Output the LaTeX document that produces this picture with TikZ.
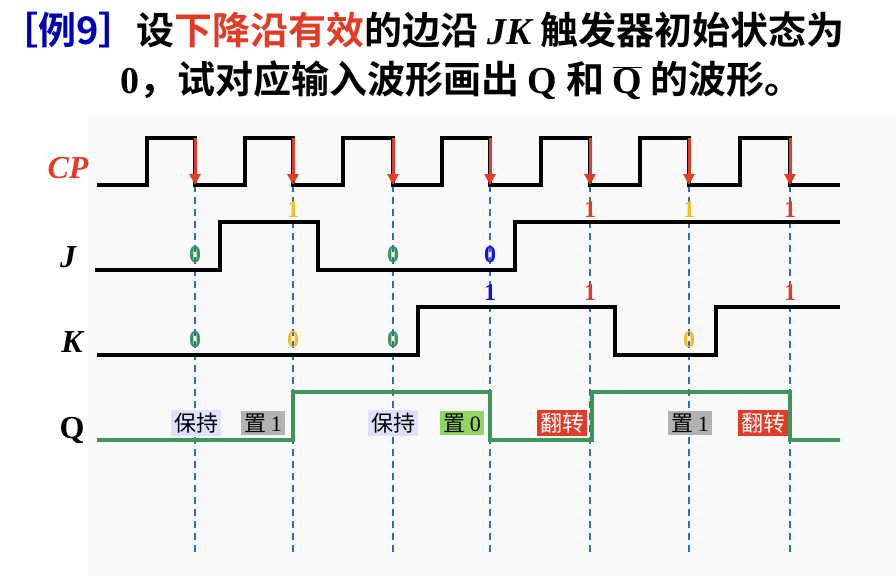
\documentclass[tikz,border=0pt]{standalone}
\usepackage{fontspec}
\setmainfont{Liberation Serif}
\newfontfamily\cjk{Noto Sans CJK SC}[BoldFont={* Bold}]
\usetikzlibrary{arrows.meta}
\definecolor{tgreen}{RGB}{60,150,90}
\definecolor{tyellow}{RGB}{240,190,40}
\definecolor{tred}{RGB}{225,60,40}
\definecolor{tblue}{RGB}{20,20,200}
\definecolor{tdash}{RGB}{40,110,190}
\tikzset{
  wave/.style={line width=3.6pt,line join=miter},
  edge/.style={tred,line width=3pt,-{Triangle[length=11pt,width=11pt]}},
  guide/.style={tdash,line width=1.6pt,dash pattern=on 7pt off 5pt},
  bit/.style={font=\bfseries\fontsize{24}{24}\selectfont,inner sep=0pt},
  sig/.style={font=\bfseries\itshape\fontsize{32}{32}\selectfont},
  tag/.style={font=\cjk\fontsize{22}{22}\selectfont,inner xsep=3pt,inner ysep=3pt}
}
\begin{document}
\begin{tikzpicture}[x=1pt,y=-1pt]
\useasboundingbox (0,0) rectangle (896,576);
\fill[gray!5] (88,115) rectangle (896,576);
% title
\node[anchor=west,font=\cjk\bfseries\fontsize{38}{38}\selectfont,inner sep=0pt] (t1) at (0,30)
  {\textcolor{blue!70!black}{［例9］}设\textcolor{tred}{下降沿有效}的边沿 {\rmfamily\itshape JK} 触发器初始状态为};
\node[anchor=west,font=\cjk\bfseries\fontsize{38}{38}\selectfont,inner sep=0pt] (t2) at (120,80)
  {{\rmfamily 0}，试对应输入波形画出 {\rmfamily Q} 和 {\rmfamily$\overline{\mbox{Q}}$} 的波形。};
% signal names
\node[sig,tred] (cp) at (68,168) {CP};
\node[sig] (j) at (68,257) {J};
\node[sig] (k) at (72,342) {K};
\node[sig,font=\bfseries\fontsize{32}{32}\selectfont] (q) at (72,430) {Q};
% guides at falling edges
\foreach \x/\n in {195/1,293/2,393/3,490/4,590/5,689/6,790/7} {
  \coordinate (g\n) at (\x,185);
  \coordinate (h\n) at (\x,552);
  \draw[guide] (g\n) -- (h\n);
}
% waves
\draw[wave] (97,185) -- (147,185) -- (147,138) -- (195,138) -- (195,185) -- (245,185) -- (245,138)
  -- (293,138) -- (293,185) -- (343,185) -- (343,138) -- (393,138) -- (393,185) -- (442,185)
  -- (442,138) -- (490,138) -- (490,185) -- (541,185) -- (541,138) -- (590,138) -- (590,185)
  -- (640,185) -- (640,138) -- (689,138) -- (689,185) -- (740,185) -- (740,138) -- (790,138)
  -- (790,185) -- (840,185);
\draw[wave] (95,270) -- (220,270) -- (220,222) -- (318,222) -- (318,270) -- (515,270) -- (515,222) -- (840,222);
\draw[wave] (97,355) -- (418,355) -- (418,307) -- (615,307) -- (615,355) -- (716,355) -- (716,307) -- (840,307);
\draw[wave,tgreen] (97,440) -- (293,440) -- (293,392) -- (490,392) -- (490,440) -- (592,440) -- (592,392)
  -- (790,392) -- (790,440) -- (840,440);
% falling edge arrows
\foreach \x/\n in {195/1,293/2,393/3,490/4,590/5,689/6,790/7} {
  \coordinate (a\n) at (\x,138);
  \draw[edge] (a\n) -- (g\n);
}
% J and K values
\node[bit,tgreen] (j1) at (195,255) {0};
\node[bit,tyellow] (j2) at (293,210) {1};
\node[bit,tgreen] (j3) at (393,255) {0};
\node[bit,tblue] (j4) at (490,255) {0};
\node[bit,tred] (j5) at (590,210) {1};
\node[bit,tyellow] (j6) at (689,210) {1};
\node[bit,tred] (j7) at (790,210) {1};
\node[bit,tgreen] (k1) at (195,340) {0};
\node[bit,tyellow] (k2) at (293,340) {0};
\node[bit,tgreen] (k3) at (393,340) {0};
\node[bit,tblue] (k4) at (490,293) {1};
\node[bit,tred] (k5) at (590,293) {1};
\node[bit,tyellow] (k6) at (689,340) {0};
\node[bit,tred] (k7) at (790,293) {1};
% Q actions
\node[tag,fill=blue!12] (s1) at (196,423) {保持};
\node[tag,fill=gray!60] (s2) at (263,423) {置 {\rmfamily 1}};
\node[tag,fill=blue!12] (s3) at (393,423) {保持};
\node[tag,fill=green!45!olive!60] (s4) at (462,423) {置 {\rmfamily 0}};
\node[tag,fill=tred,text=white] (s5) at (562,423) {翻转};
\node[tag,fill=gray!60] (s6) at (690,423) {置 {\rmfamily 1}};
\node[tag,fill=tred,text=white] (s7) at (763,423) {翻转};
\end{tikzpicture}
\end{document}
